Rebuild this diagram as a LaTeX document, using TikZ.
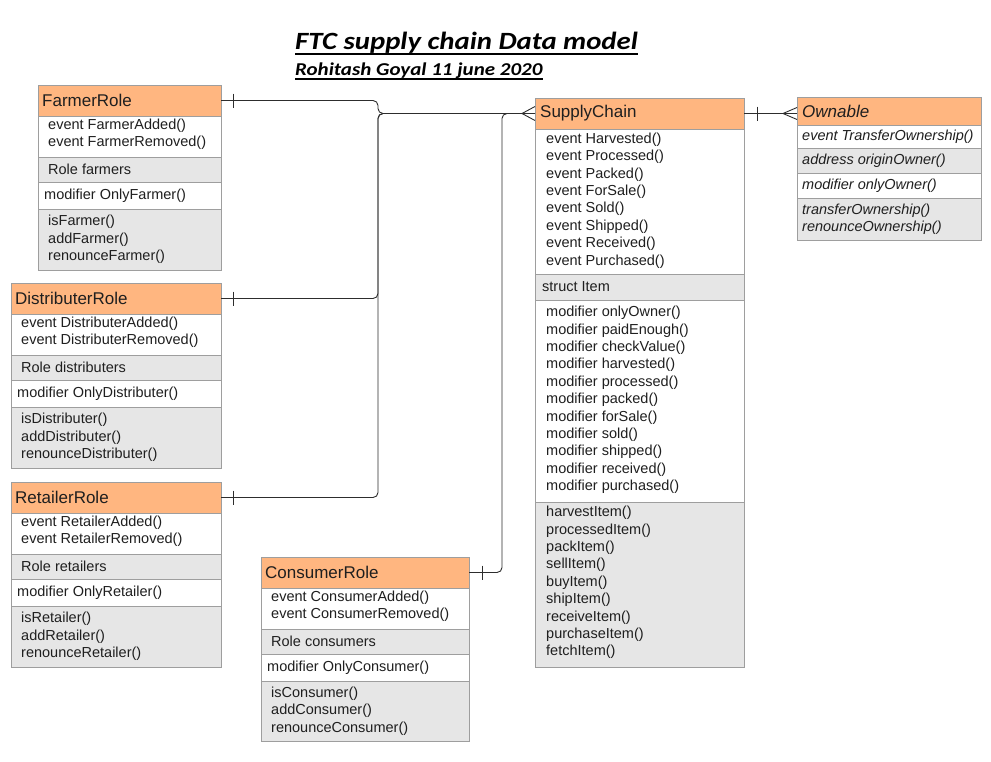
\documentclass[tikz,border=0pt]{standalone}
\usepackage{fontspec}
\setmainfont{Liberation Sans}
\newfontfamily\titlefont[FakeStretch=1.16]{Carlito}
\definecolor{hdrfill}{RGB}{255,182,128}
\definecolor{secgrey}{RGB}{230,230,230}
\definecolor{boxline}{RGB}{158,158,158}
\definecolor{connline}{RGB}{45,45,45}
\tikzset{
  sec/.style={draw=boxline, line width=0.8pt, anchor=north west, inner sep=0pt, outer sep=0pt},
  hdr/.style={sec, fill=hdrfill},
  wsec/.style={sec, fill=white},
  gsec/.style={sec, fill=secgrey},
  txt/.style={anchor=west, inner sep=0pt, align=left, font=\fontsize{14.5}{17.4}\selectfont, text=black!88},
  htxt/.style={anchor=west, inner sep=0pt, font=\fontsize{17}{20}\selectfont, text=black!88},
  conn/.style={draw=connline, line width=0.9pt, rounded corners=5pt},
  tick/.style={draw=connline, line width=0.9pt},
}
\begin{document}
\begin{tikzpicture}[x=1pt,y=-1pt]
\fill[white] (0,0) rectangle (991,761);
\useasboundingbox (0,0) rectangle (991,761);

% Title
\node[anchor=base west, inner sep=0pt, font={\titlefont\fontsize{24.8}{30}\selectfont\bfseries\itshape}] (title) at (295,49) {FTC supply chain Data model};
\draw[line width=2.2pt] ([yshift=-5]title.base west) -- ([yshift=-5]title.base east);
\node[anchor=base west, inner sep=0pt, font={\titlefont\fontsize{18.1}{21}\selectfont\bfseries\itshape}] (subtitle) at (295,75) {Rohitash Goyal 11 june 2020};
\draw[line width=1.5pt] ([yshift=-4]subtitle.base west) -- ([yshift=-4]subtitle.base east);

% FarmerRole
\node[hdr, minimum width=183, minimum height=31] (fh) at (38,85) {};
\node[htxt] (fht) at ([xshift=4]fh.west) {FarmerRole};
\node[wsec, minimum width=183, minimum height=41] (fe) at (38,116) {};
\node[txt] (fet) at ([xshift=10,yshift=2]fe.west) {event FarmerAdded()\\event FarmerRemoved()};
\node[gsec, minimum width=183, minimum height=25] (fr) at (38,157) {};
\node[txt] (frt) at ([xshift=10]fr.west) {Role farmers};
\node[wsec, minimum width=183, minimum height=27] (fm) at (38,182) {};
\node[txt] (fmt) at ([xshift=6]fm.west) {modifier OnlyFarmer()};
\node[gsec, minimum width=183, minimum height=61] (ff) at (38,209) {};
\node[txt] (fft) at ([xshift=10]ff.west) {isFarmer()\\addFarmer()\\renounceFarmer()};

% DistributerRole
\node[hdr, minimum width=210, minimum height=31] (dh) at (11,283) {};
\node[htxt] (dht) at ([xshift=4]dh.west) {DistributerRole};
\node[wsec, minimum width=210, minimum height=41] (de) at (11,314) {};
\node[txt] (det) at ([xshift=10,yshift=2]de.west) {event DistributerAdded()\\event DistributerRemoved()};
\node[gsec, minimum width=210, minimum height=25] (dr) at (11,355) {};
\node[txt] (drt) at ([xshift=10]dr.west) {Role distributers};
\node[wsec, minimum width=210, minimum height=27] (dm) at (11,380) {};
\node[txt] (dmt) at ([xshift=6]dm.west) {modifier OnlyDistributer()};
\node[gsec, minimum width=210, minimum height=61] (df) at (11,407) {};
\node[txt] (dft) at ([xshift=10]df.west) {isDistributer()\\addDistributer()\\renounceDistributer()};

% RetailerRole
\node[hdr, minimum width=210, minimum height=31] (rh) at (11,482) {};
\node[htxt] (rht) at ([xshift=4]rh.west) {RetailerRole};
\node[wsec, minimum width=210, minimum height=41] (re) at (11,513) {};
\node[txt] (ret) at ([xshift=10,yshift=2]re.west) {event RetailerAdded()\\event RetailerRemoved()};
\node[gsec, minimum width=210, minimum height=25] (rr) at (11,554) {};
\node[txt] (rrt) at ([xshift=10]rr.west) {Role retailers};
\node[wsec, minimum width=210, minimum height=27] (rm) at (11,579) {};
\node[txt] (rmt) at ([xshift=6]rm.west) {modifier OnlyRetailer()};
\node[gsec, minimum width=210, minimum height=61] (rf) at (11,606) {};
\node[txt] (rft) at ([xshift=10]rf.west) {isRetailer()\\addRetailer()\\renounceRetailer()};

% ConsumerRole
\node[hdr, minimum width=208, minimum height=31] (ch) at (261,557) {};
\node[htxt] (cht) at ([xshift=4]ch.west) {ConsumerRole};
\node[wsec, minimum width=208, minimum height=41] (ce) at (261,588) {};
\node[txt] (cet) at ([xshift=10,yshift=2]ce.west) {event ConsumerAdded()\\event ConsumerRemoved()};
\node[gsec, minimum width=208, minimum height=25] (cr) at (261,629) {};
\node[txt] (crt) at ([xshift=10]cr.west) {Role consumers};
\node[wsec, minimum width=208, minimum height=27] (cm) at (261,654) {};
\node[txt] (cmt) at ([xshift=6]cm.west) {modifier OnlyConsumer()};
\node[gsec, minimum width=208, minimum height=60] (cf) at (261,681) {};
\node[txt] (cft) at ([xshift=10]cf.west) {isConsumer()\\addConsumer()\\renounceConsumer()};

% SupplyChain
\node[hdr, minimum width=209, minimum height=31] (sh) at (535,98) {};
\node[htxt] (sht) at ([xshift=5]sh.west) {SupplyChain};
\node[wsec, minimum width=209, minimum height=145] (se) at (535,129) {};
\node[txt] (set) at ([xshift=11,yshift=1]se.west) {event Harvested()\\event Processed()\\event Packed()\\event ForSale()\\event Sold()\\event Shipped()\\event Received()\\event Purchased()};
\node[gsec, minimum width=209, minimum height=26] (ss) at (535,274) {};
\node[txt] (sst) at ([xshift=7]ss.west) {struct Item};
\node[wsec, minimum width=209, minimum height=202] (sm) at (535,300) {};
\node[txt] (smt) at ([xshift=11,yshift=1]sm.west) {modifier onlyOwner()\\modifier paidEnough()\\modifier checkValue()\\modifier harvested()\\modifier processed()\\modifier packed()\\modifier forSale()\\modifier sold()\\modifier shipped()\\modifier received()\\modifier purchased()};
\node[gsec, minimum width=209, minimum height=165] (sf) at (535,502) {};
\node[txt] (sft) at ([xshift=11,yshift=2]sf.west) {harvestItem()\\processedItem()\\packItem()\\sellItem()\\buyItem()\\shipItem()\\receiveItem()\\purchaseItem()\\fetchItem()};

% Ownable
\node[hdr, minimum width=184, minimum height=28] (oh) at (797,97) {};
\node[htxt, font=\fontsize{17}{20}\selectfont\itshape] (oht) at ([xshift=5]oh.west) {Ownable};
\node[wsec, minimum width=184, minimum height=23] (oe) at (797,125) {};
\node[txt, font=\fontsize{14.5}{17.4}\selectfont\itshape] (oet) at ([xshift=5]oe.west) {event TransferOwnership()};
\node[gsec, minimum width=184, minimum height=25] (oa) at (797,148) {};
\node[txt, font=\fontsize{14.5}{17.4}\selectfont\itshape] (oat) at ([xshift=5]oa.west) {address originOwner()};
\node[wsec, minimum width=184, minimum height=25] (om) at (797,173) {};
\node[txt, font=\fontsize{14.5}{17.4}\selectfont\itshape] (omt) at ([xshift=5]om.west) {modifier onlyOwner()};
\node[gsec, minimum width=184, minimum height=42] (of) at (797,198) {};
\node[txt, font=\fontsize{14.5}{17.4}\selectfont\itshape] (oft) at ([xshift=5]of.west) {transferOwnership()\\renounceOwnership()};

% connector coordinates
\path (sh.west) ++(-157,0) coordinate (trunk);
\path (sh.west) ++(-33,0) coordinate (ctrunk);
\path (sh.west) ++(-13,0) coordinate (crow);
\coordinate (owin) at (sh.east -| oh.west);
\path (owin) ++(-14,0) coordinate (owcrow);

% connectors
\draw[conn] (fh.east) -| (trunk) -- (crow) -- (sh.west);
\draw[conn] (dh.east) -| (trunk) -- (crow);
\draw[conn] (rh.east) -| (trunk) -- (crow);
\draw[conn] (ch.east) -| (ctrunk) -- (crow);
\draw[conn] (sh.east) -- (owin);

% one-bars
\draw[tick] ([xshift=12,yshift=7]fh.east) -- ([xshift=12,yshift=-7]fh.east);
\draw[tick] ([xshift=12,yshift=7]dh.east) -- ([xshift=12,yshift=-7]dh.east);
\draw[tick] ([xshift=12,yshift=7]rh.east) -- ([xshift=12,yshift=-7]rh.east);
\draw[tick] ([xshift=13,yshift=7]ch.east) -- ([xshift=13,yshift=-7]ch.east);
\draw[tick] ([xshift=13,yshift=7]sh.east) -- ([xshift=13,yshift=-7]sh.east);

% crow's feet
\draw[tick] ([yshift=7]sh.west) -- (crow) -- ([yshift=-7]sh.west);
\draw[tick] ([yshift=6]owin) -- (owcrow) -- ([yshift=-6]owin);
\end{tikzpicture}
\end{document}
